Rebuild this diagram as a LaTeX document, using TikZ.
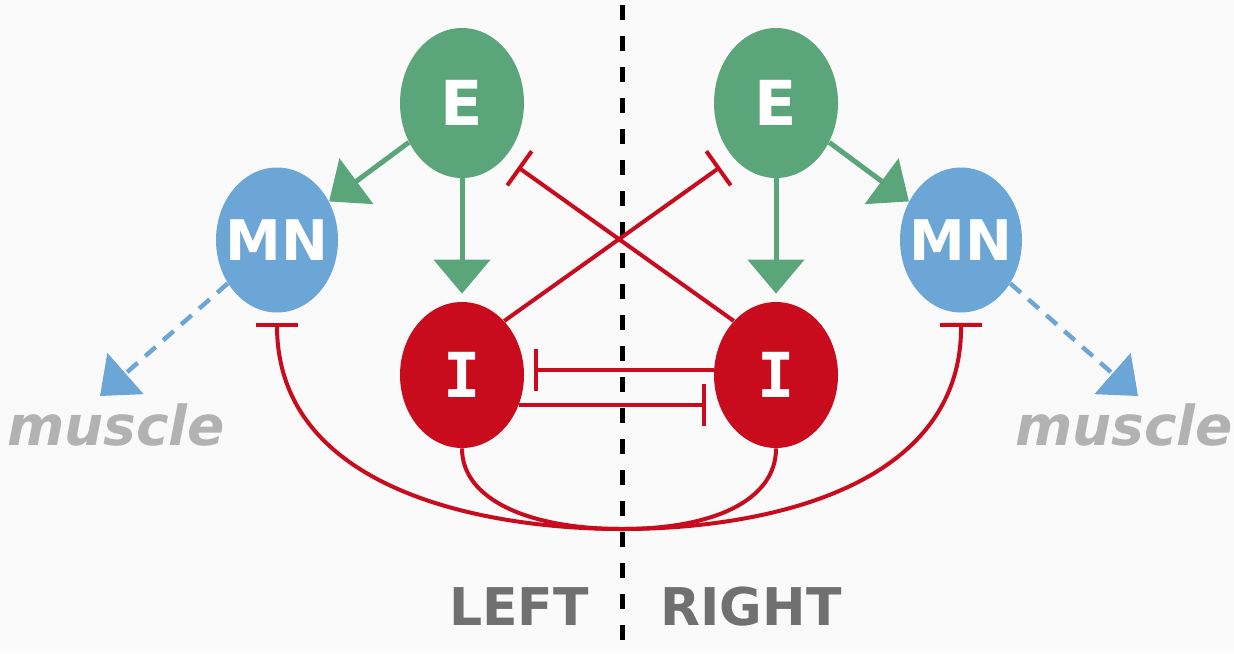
\documentclass[tikz,border=0pt]{standalone}
\usepackage{fontspec}
\setmainfont{DejaVu Sans}
\newfontfamily\slabfont{DejaVu Sans Mono}
\usetikzlibrary{arrows.meta,shapes.geometric}

\definecolor{exgreen}{RGB}{90,165,122}
\definecolor{mnblue}{RGB}{108,166,214}
\definecolor{inred}{RGB}{200,12,30}
\definecolor{labelgray}{RGB}{112,112,112}
\definecolor{musclegray}{RGB}{178,178,178}
\definecolor{paper}{RGB}{250,250,250}

\tikzset{
  cell/.style={ellipse, inner sep=0pt, text=white, font=\bfseries},
  excit/.style={cell, fill=exgreen, minimum width=62pt, minimum height=75pt, font=\bfseries\fontsize{31}{31}\selectfont},
  motor/.style={cell, fill=mnblue, minimum width=61pt, minimum height=72.5pt, font=\bfseries\fontsize{28}{28}\selectfont},
  inhib/.style={cell, fill=inred, minimum width=62pt, minimum height=73pt, font=\slabfont\bfseries\fontsize{31}{31}\selectfont},
  drive/.style={draw=exgreen, line width=2.5pt, -{Triangle[width=28pt,length=17pt]}},
  block/.style={draw=inred, line width=2pt, -{Bar[width=21pt]}},
  outflow/.style={draw=mnblue, line width=2.2pt, dash pattern=on 7pt off 5pt, -{Triangle[width=27pt,length=17pt]}},
  midline/.style={draw=black, line width=2.5pt, dash pattern=on 7.5pt off 8pt},
  sidelabel/.style={text=labelgray, font=\bfseries\fontsize{26}{26}\selectfont},
  musclelabel/.style={text=musclegray, anchor=base, font=\bfseries\itshape\fontsize{27.5}{27.5}\selectfont}
}

\begin{document}
\begin{tikzpicture}[x=0.5pt, y=-0.5pt]
  \useasboundingbox (0,0) rectangle (1234,653);
  \fill[paper] (0,0) rectangle (1234,653);

  % midline between the two sides
  \coordinate (midtop) at (622,5);
  \coordinate (midbot) at (622,653);
  \draw[midline] (midtop) -- (midbot);

  % cells (the wide MN label is given zero width so the ellipse keeps its size)
  \node[excit] (lE) at (462,103) {E};
  \node[excit] (rE) at (776,103) {E};
  \node[motor] (lMN) at (277,240) {\makebox[0pt]{MN}};
  \node[motor] (rMN) at (961,240) {\makebox[0pt]{MN}};
  \node[inhib] (lI) at (462,375) {I};
  \node[inhib] (rI) at (776,375) {I};

  % outputs to muscle
  \coordinate (lmus) at (100,396);
  \coordinate (rmus) at (1138,396);
  \draw[outflow] (lMN) -- (lmus);
  \draw[outflow] (rMN) -- (rmus);
  \node[musclelabel] at (116,445) {muscle};
  \node[musclelabel] at (1124,445) {muscle};

  % excitation
  \draw[drive] (lE) -- (lMN);
  \draw[drive] (rE) -- (rMN);
  \draw[drive, shorten >=4pt] (lE) -- (lI);
  \draw[drive, shorten >=4pt] (rE) -- (rI);

  % crossed inhibition of the opposite E
  \draw[block, shorten >=8pt] (lI.52) -- (rE.232);
  \draw[block, shorten >=8pt] (rI.128) -- (lE.308);

  % reciprocal inhibition between the two I cells
  \draw[block, shorten >=5pt] (rI.175) -- (rI.175 -| lI.east);
  \draw[block, shorten >=4pt] (lI.-28) -- (lI.-28 -| rI.west);

  % I cells inhibit the opposite motoneurons
  \draw[block, shorten >=5pt] (lI.south) .. controls (462,500) and (530,529) .. (622,529)
        .. controls (760,529) and (962,490) .. (rMN.south);
  \draw[block, shorten >=5pt] (rI.south) .. controls (776,500) and (714,529) .. (622,529)
        .. controls (484,529) and (277,490) .. (lMN.south);

  % side labels
  \node[sidelabel] (leftlab) at (519,607) {LEFT};
  \node[sidelabel] (rightlab) at (751,607) {RIGHT};
\end{tikzpicture}
\end{document}
